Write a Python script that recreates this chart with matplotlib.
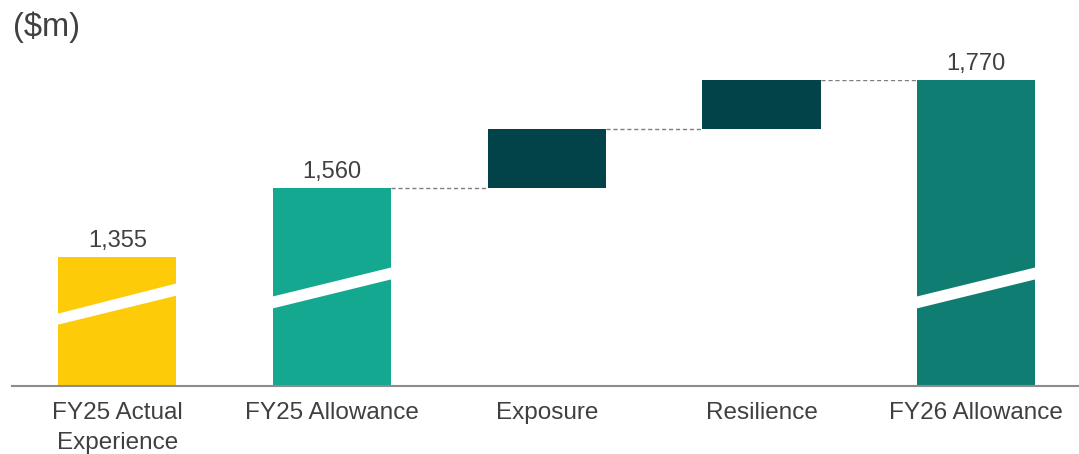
import matplotlib
matplotlib.use("Agg")
import matplotlib.pyplot as plt
import matplotlib.transforms as mtransforms
import numpy as np

plt.rcParams["font.family"] = ["Liberation Sans", "DejaVu Sans"]

# waterfall data ($m)
categories = ["FY25 Actual\nExperience", "FY25 Allowance", "Exposure", "Resilience", "FY26 Allowance"]
values = [1355, 1560, 115, 95, 1770]
is_total = [True, True, False, False, True]
bar_colors = ["#FDCB08", "#14A891", "#02434A", "#02434A", "#107D73"]
show_label = [True, True, False, False, True]

TEXT = "#404040"

# bottoms / tops of each bar
bottoms, tops = [], []
running = 0
for v, tot in zip(values, is_total):
    if tot:
        bottoms.append(0)
        tops.append(v)
        running = v
    else:
        bottoms.append(running)
        running += v
        tops.append(running)

# broken (non-linear) value axis: the lower part of the totals is squeezed
totals = [v for v, t in zip(values, is_total) if t]
knots_v = [-10000, 0] + totals + [10000]
knots_px = [-952, 0, 129, 198, 306, 306 + (10000 - 1770) * 108 / 210]


def fwd(v):
    return np.interp(v, knots_v, knots_px)


def inv(p):
    return np.interp(p, knots_px, knots_v)


fig = plt.figure(figsize=(10.79, 4.54), dpi=100)
ax = fig.add_axes([12 / 1079, 68 / 454, 1 - 12 / 1079, 306 / 454])
ax.set_yscale("function", functions=(fwd, inv))

x = np.arange(len(categories))
width = 0.55
heights = np.array(tops) - np.array(bottoms)
ax.bar(x, heights, bottom=bottoms, width=width, color=bar_colors, zorder=2)

# dashed connectors between consecutive bars
for i in range(1, len(values) - 1):
    ax.plot([x[i] + width / 2, x[i + 1] - width / 2], [tops[i], tops[i]],
            ls=(0, (3, 2)), color="#7f7f7f", lw=1.0, zorder=1)

# white slash on the total bars (axis break)
trans = mtransforms.blended_transform_factory(ax.transData, ax.transAxes)
slash_y = {0: (0.199, 0.235, 0.297, 0.337),
           1: (0.252, 0.291, 0.350, 0.389),
           4: (0.252, 0.291, 0.350, 0.389)}
for i, (ll, lu, rl, ru) in slash_y.items():
    x0, x1 = x[i] - width / 2 - 0.01, x[i] + width / 2 + 0.01
    ax.fill([x0, x1, x1, x0], [ll, rl, ru, lu], color="white",
            transform=trans, zorder=3, lw=0)

# value labels on the totals
for i in range(len(values)):
    if show_label[i]:
        ax.annotate(f"{values[i]:,}", (x[i], tops[i]), xytext=(0, 7.5),
                    textcoords="offset points", ha="center", va="baseline",
                    fontsize=17, color=TEXT)

ax.set_xlim(-0.4908, 4.479)
ax.set_ylim(0, 1770)
ax.set_xticks(x)
ax.set_xticklabels(categories, fontsize=17.5, color=TEXT, linespacing=1.45)
ax.tick_params(axis="x", length=0, pad=11.5)
ax.set_yticks([])
ax.minorticks_off()
for s in ["top", "right", "left"]:
    ax.spines[s].set_visible(False)
ax.spines["bottom"].set_color("#8c8c8c")
ax.spines["bottom"].set_linewidth(1.5)
ax.set_facecolor("none")

fig.text(13 / 1079, 1 - 27 / 454, "($m)", fontsize=23.5, color=TEXT,
         ha="left", va="center")

fig.savefig("out.png", dpi=100)
